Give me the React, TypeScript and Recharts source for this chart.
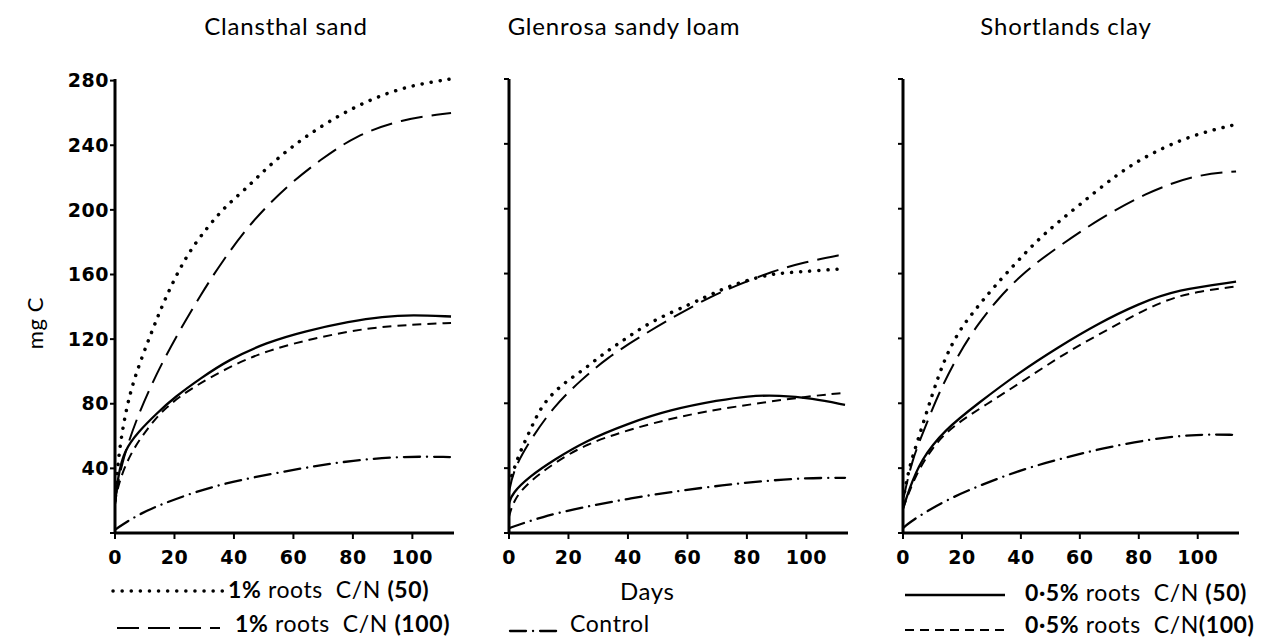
import { Line, LineChart, XAxis, YAxis } from "recharts";

const DAY_TICKS = [0, 20, 40, 60, 80, 100];
const MGC_TICKS = [0, 40, 80, 120, 160, 200, 240, 280];

// [day, mg C]

// Clansthal sand
const sandRoots1CN50 = [[0, 20], [1, 45], [3, 70], [6, 94], [12, 123], [17, 146], [24, 172], [31, 189], [37, 202], [44, 213], [51, 226], [60, 240], [71, 254], [85, 268], [99, 277], [113, 281]];
const sandRoots1CN100 = [[0, 20], [2, 42], [7, 70], [14, 99], [21, 123], [29, 148], [36, 168], [46, 193], [58, 215], [69, 231], [81, 246], [96, 256], [113, 260]];
const sandRoots05CN50 = [[0, 18], [1, 35], [3, 51], [8, 63], [14, 74], [20, 84], [29, 96], [38, 107], [51, 118], [64, 125], [79, 131], [90, 134], [100, 135], [113, 134]];
const sandRoots05CN100 = [[0, 18], [1, 30], [5, 49], [11, 65], [17, 78], [26, 90], [38, 102.5], [51, 113], [68, 121], [85, 127], [100, 129], [113, 130]];
const sandControl = [[0, 2], [8, 12], [20, 21], [34, 29.5], [48, 35], [64, 40.5], [80, 45], [97, 47.5], [113, 47]];

// Glenrosa sandy loam
const loamRoots1CN50 = [[0, 30], [3, 47], [6, 59], [9, 71], [12, 81], [18, 92], [25, 100.5], [32, 111], [37, 117], [48, 131], [61, 141], [71, 150], [80, 156], [89, 160], [97, 161], [113, 163]];
const loamRoots1CN100 = [[0, 25], [1.5, 39], [7, 57], [15, 78], [24, 94], [33, 108], [44, 121], [57, 135], [68, 146], [77, 153], [88, 161], [99, 167], [113, 172]];
const loamRoots05CN50 = [[0, 18], [1, 24.5], [7, 35], [15, 45], [26, 57], [40, 67.5], [54, 76], [71, 82], [80, 84.5], [91, 85], [102, 83], [113, 79]];
const loamRoots05CN100 = [[0, 10], [1.5, 20], [6, 30.5], [15, 43], [26, 55], [40, 63.5], [57, 72], [76, 78], [99, 84], [113, 86.5]];
const loamControl = [[0, 3], [11, 10], [25, 16], [41, 21.5], [57, 26], [72, 29.5], [85, 32], [100, 34], [113, 34]];

// Shortlands clay
const clayRoots1CN50 = [[0, 20], [2, 40], [5, 57], [10, 86], [14, 107], [19, 125], [25.5, 140], [31, 152], [39, 168], [48, 185], [59, 201], [73, 222], [84, 234], [98, 245.5], [113, 252]];
const clayRoots1CN100 = [[0, 20], [3, 45], [7.5, 65], [12, 86], [19, 111], [25.5, 129], [32, 144], [41, 161], [53, 177], [66, 193], [82, 209.5], [99, 221], [113, 223]];
const clayRoots05CN50 = [[0, 15], [2, 26.5], [6, 45], [14, 63.5], [25.5, 80], [39, 98.5], [53, 115], [66, 129], [80, 141.5], [93, 150], [113, 155]];
const clayRoots05CN100 = [[0, 15], [4, 35], [10, 53], [16.5, 65.5], [28, 79], [41, 94], [55, 111], [71, 127], [88, 143.5], [100, 149], [113, 152]];
const clayControl = [[0, 3], [2.4, 7], [14, 20], [27, 30], [40, 39], [54, 46], [67, 52], [84, 58], [100, 61], [113, 60.5]];

const TEXT_FONT = "Lato, 'Open Sans', sans-serif";
const TICK_FONT = "'DejaVu Sans', sans-serif";

const STYLES = {
  dotted: { strokeWidth: 3.5, strokeDasharray: "0.1 9", strokeLinecap: "round" as const },
  longDash: { strokeWidth: 2, strokeDasharray: "22 9" },
  solid: { strokeWidth: 2.3 },
  shortDash: { strokeWidth: 2, strokeDasharray: "9 6" },
  dashDot: { strokeWidth: 2.3, strokeDasharray: "16 7 0.1 7", strokeLinecap: "round" as const },
};

type StyleKey = keyof typeof STYLES;

const toPoints = (pairs: number[][]) => pairs.map(([day, c]) => ({ day, c }));

const seriesFor = (a: number[][], b: number[][], c: number[][], d: number[][], e: number[][]) =>
  [
    { key: "dotted", data: a },
    { key: "longDash", data: b },
    { key: "solid", data: c },
    { key: "shortDash", data: d },
    { key: "dashDot", data: e },
  ] as { key: StyleKey; data: number[][] }[];

const PANELS = [
  { left: 0, plotWidth: 339, labels: true, series: seriesFor(sandRoots1CN50, sandRoots1CN100, sandRoots05CN50, sandRoots05CN100, sandControl) },
  { left: 394, plotWidth: 339, labels: false, series: seriesFor(loamRoots1CN50, loamRoots1CN100, loamRoots05CN50, loamRoots05CN100, loamControl) },
  { left: 788, plotWidth: 336, labels: false, series: seriesFor(clayRoots1CN50, clayRoots1CN100, clayRoots05CN50, clayRoots05CN100, clayControl) },
];

const TITLES = [
  { text: "Clansthal sand", x: 286 },
  { text: "Glenrosa sandy loam", x: 624 },
  { text: "Shortlands clay", x: 1066 },
];

function Panel({ left, plotWidth, labels, series }: (typeof PANELS)[number]) {
  const tickStyle = { fill: "#000", fontSize: 19, fontWeight: 700, fontFamily: TICK_FONT, letterSpacing: 0.5 };
  return (
    <div style={{ position: "absolute", left, top: 0 }}>
      <LineChart width={115 + plotWidth + 10} height={637} margin={{ top: 79, right: 10, bottom: 74, left: 0 }}>
        <XAxis
          dataKey="day"
          type="number"
          domain={[0, 114]}
          ticks={DAY_TICKS}
          allowDataOverflow
          height={30}
          tickSize={6}
          tickMargin={12}
          tick={tickStyle}
          axisLine={{ stroke: "#000", strokeWidth: 3 }}
          tickLine={{ stroke: "#000", strokeWidth: 2 }}
        />
        <YAxis
          type="number"
          domain={[0, 280]}
          ticks={MGC_TICKS}
          width={115}
          tickSize={5}
          tickMargin={1}
          tick={tickStyle}
          tickFormatter={(v: number) => (labels && v !== 0 ? String(v) : "")}
          axisLine={{ stroke: "#000", strokeWidth: 3 }}
          tickLine={{ stroke: "#000", strokeWidth: 2 }}
        />
        {series.map((s) => (
          <Line
            key={s.key}
            data={toPoints(s.data)}
            dataKey="c"
            type="basis"
            stroke="#000"
            dot={false}
            isAnimationActive={false}
            {...STYLES[s.key]}
          />
        ))}
      </LineChart>
    </div>
  );
}

function Sample({ kind, width }: { kind: StyleKey; width: number }) {
  const st = STYLES[kind];
  return (
    <svg width={width} height={8} style={{ display: "block" }}>
      <line x1={2} y1={4} x2={width - 2} y2={4} stroke="#000" {...st} />
    </svg>
  );
}

const abs = (left: number, top: number): React.CSSProperties => ({
  position: "absolute",
  left,
  top,
  whiteSpace: "nowrap",
  fontFamily: TEXT_FONT,
  fontSize: 23,
  letterSpacing: 0.6,
  lineHeight: "24px",
});

export default function App() {
  return (
    <div style={{ position: "absolute", left: 0, top: 0, width: 1265, height: 637, background: "#fff", overflow: "hidden" }}>
      {TITLES.map((t) => (
        <div key={t.text} style={{ ...abs(t.x - 130, 14), width: 260, textAlign: "center", fontSize: 24, letterSpacing: 0.8 }}>
          {t.text}
        </div>
      ))}
      <div
        style={{
          ...abs(35 - 40, 311),
          width: 80,
          textAlign: "center",
          transform: "rotate(-90deg)",
          fontSize: 22,
        }}
      >
        mg C
      </div>
      {PANELS.map((p) => (
        <Panel key={p.left} {...p} />
      ))}

      {/* legends */}
      <div style={{ position: "absolute", left: 111, top: 587 }}>
        <Sample kind="dotted" width={118} />
      </div>
      <div style={abs(228, 577)}>
        <b>1%</b> roots&nbsp; C/N <b>(50)</b>
      </div>
      <div style={{ position: "absolute", left: 115, top: 624 }}>
        <Sample kind="longDash" width={107} />
      </div>
      <div style={abs(235, 611)}>
        <b>1%</b> roots&nbsp; C/N <b>(100)</b>
      </div>

      <div style={{ ...abs(620, 579), fontSize: 24 }}>Days</div>
      <div style={{ position: "absolute", left: 508, top: 627 }}>
        <Sample kind="dashDot" width={57} />
      </div>
      <div style={abs(570, 611)}>Control</div>

      <div style={{ position: "absolute", left: 903, top: 591 }}>
        <Sample kind="solid" width={104} />
      </div>
      <div style={abs(1025, 580)}>
        <b>0·5%</b> roots&nbsp; C/N <b>(50)</b>
      </div>
      <div style={{ position: "absolute", left: 903, top: 626 }}>
        <Sample kind="shortDash" width={104} />
      </div>
      <div style={abs(1025, 612)}>
        <b>0·5%</b> roots&nbsp; C/N<b>(100)</b>
      </div>
    </div>
  );
}
